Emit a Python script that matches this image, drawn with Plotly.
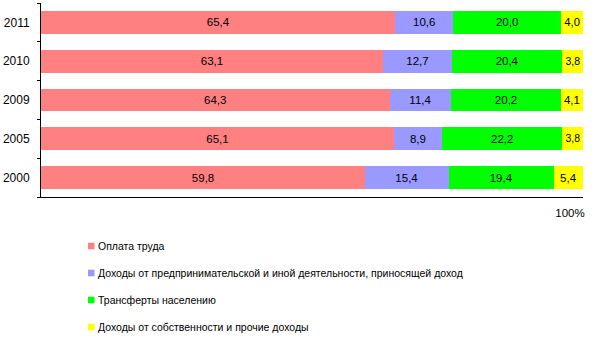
import plotly.graph_objects as go

years = ["2000", "2005", "2009", "2010", "2011"]
wages = [59.8, 65.1, 64.3, 63.1, 65.4]
business = [15.4, 8.9, 11.4, 12.7, 10.6]
transfers = [19.4, 22.2, 20.2, 20.4, 20.0]
property_other = [5.4, 3.8, 4.1, 3.8, 4.0]

series_names = [
    "Оплата труда",
    "Доходы от предпринимательской и иной деятельности, приносящей доход",
    "Трансферты населению",
    "Доходы от собственности и прочие доходы",
]
series_values = [wages, business, transfers, property_other]
colors = ["#FF8080", "#9999FF", "#00FF00", "#FFFF00"]

FONT = "Liberation Sans, Arial, sans-serif"

fig = go.Figure()
for name, vals, col in zip(series_names, series_values, colors):
    fig.add_trace(go.Bar(
        y=years, x=vals, orientation="h", name=name,
        marker=dict(color=col, line=dict(width=0)),
        texttemplate="%{x:.1f}", textposition="inside",
        insidetextanchor="middle", textangle=0,
        textfont=dict(family=FONT, size=11.5, color="black"),
        showlegend=False,
    ))

# manual legend (squares + text), positions in paper fraction of plot area
leg_y = [246, 273, 300, 327]
for name, col, yy in zip(series_names, colors, leg_y):
    fig.add_shape(type="rect", xref="paper", yref="paper",
                  x0=(88 - 41) / 542, x1=(94.5 - 41) / 542,
                  y0=1 - (yy + 3.3 - 3) / 194,
                  y1=1 - (yy - 3.3 - 3) / 194,
                  fillcolor=col, line=dict(width=0))
    fig.add_annotation(xref="paper", yref="paper",
                       x=(96 - 41) / 542, y=1 - (yy - 3) / 194,
                       xanchor="left", yanchor="middle", showarrow=False,
                       text=name, font=dict(family=FONT, size=10.5, color="black"))

fig.update_layout(
    width=598, height=351,
    margin=dict(l=41, r=15, t=3, b=154),
    barmode="stack", bargap=0.41,
    plot_bgcolor="white", paper_bgcolor="white",
    separators=",.",
    font=dict(family=FONT, size=11, color="black"),
    xaxis=dict(range=[0, 100], showgrid=False, zeroline=False,
               showline=True, linecolor="black", linewidth=1,
               tickvals=[100], ticktext=["100%"], ticks="inside",
               ticklen=3, tickcolor="black", ticklabelshift=-13,
               ticklabelstandoff=5,
               tickfont=dict(family=FONT, size=11.5)),
    yaxis=dict(categoryorder="array", categoryarray=years,
               showgrid=False, zeroline=False, showline=True,
               linecolor="black", linewidth=1, ticks="outside",
               tickson="boundaries", ticklen=3, tickcolor="black",
               ticklabelstandoff=8,
               tickfont=dict(family=FONT, size=12)),
)

fig.write_html("out.html")
